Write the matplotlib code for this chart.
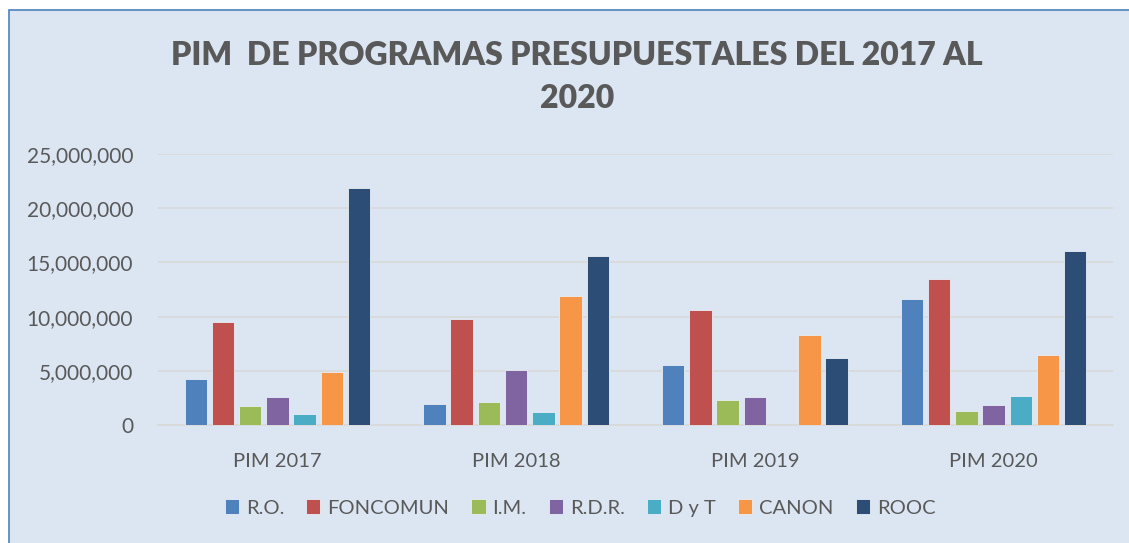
import matplotlib.pyplot as plt
import numpy as np
from matplotlib.patches import Rectangle

# Datos del grafico
categorias = ["PIM 2017", "PIM 2018", "PIM 2019", "PIM 2020"]
series = ["R.O.", "FONCOMUN", "I.M.", "R.D.R.", "D y T", "CANON", "ROOC"]
ro = [4200000, 1940000, 5520000, 11590000]
foncomun = [9520000, 9800000, 10570000, 13440000]
im = [1790000, 2100000, 2280000, 1330000]
rdr = [2590000, 5030000, 2620000, 1850000]
dyt = [1050000, 1170000, 0, 2720000]
canon = [4870000, 11900000, 8260000, 6440000]
rooc = [21900000, 15600000, 6140000, 16030000]
valores = [ro, foncomun, im, rdr, dyt, canon, rooc]
colores = ["#4F81BD", "#C0504D", "#9BBB59", "#8064A2", "#4BACC6", "#F79646", "#2C4D75"]

fondo = "#DCE6F2"
texto = "#595959"

plt.rcParams['font.family'] = ['Lato', 'DejaVu Sans']

fig = plt.figure(figsize=(11.29, 5.43), dpi=100)
fig.patch.set_facecolor("white")
# marco del grafico (solo se ven los bordes izquierdo y superior)
fig.patches.append(Rectangle((9 / 1129, -0.5), 1.5, 1.5 - 10 / 543, transform=fig.transFigure,
                             facecolor=fondo, edgecolor="#4F81BD", linewidth=1.2, zorder=-1))

ax = fig.add_axes([158 / 1129, 1 - 425 / 543, (1113 - 158) / 1129, (425 - 154) / 543])
ax.set_facecolor(fondo)

x = np.arange(len(categorias))
paso = 0.114
ancho = 0.094
for i, (nombre, vals, col) in enumerate(zip(series, valores, colores)):
    pos = x + (i - 3) * paso
    ax.bar(pos, vals, width=ancho, color=col, edgecolor="#E8EEF6", linewidth=0.6,
           label=nombre, zorder=3)

ax.set_xlim(-0.5, 3.5)
ax.set_ylim(0, 25000000)
ax.set_yticks(np.arange(0, 25000001, 5000000))
ax.yaxis.set_major_formatter(plt.FuncFormatter(lambda v, p: f"{int(v):,}"))
ax.set_xticks(x)
ax.set_xticklabels(categorias)
ax.tick_params(axis="y", length=0, labelsize=15, labelcolor=texto, pad=18)
ax.tick_params(axis="x", length=0, labelsize=14.5, labelcolor=texto, pad=20)
ax.grid(axis="y", color="#D9D9D9", linewidth=1.3, zorder=0)
for s in ["top", "right", "left"]:
    ax.spines[s].set_visible(False)
ax.spines["bottom"].set_color("#D9D9D9")
ax.spines["bottom"].set_linewidth(1.3)

fig.text(577 / 1129, 1 - 77 / 543, "PIM  DE PROGRAMAS PRESUPUESTALES DEL 2017 AL\n2020",
         ha="center", va="center", fontsize=23, fontweight="heavy", color=texto,
         linespacing=1.6)

leg = fig.legend(loc="center", bbox_to_anchor=(580 / 1129, 1 - 508 / 543), ncol=7,
                 frameon=False, fontsize=14.5, handlelength=0.7, handleheight=0.7,
                 handletextpad=0.35, columnspacing=1.1, labelcolor=texto)

fig.savefig("out.png", dpi=100)
